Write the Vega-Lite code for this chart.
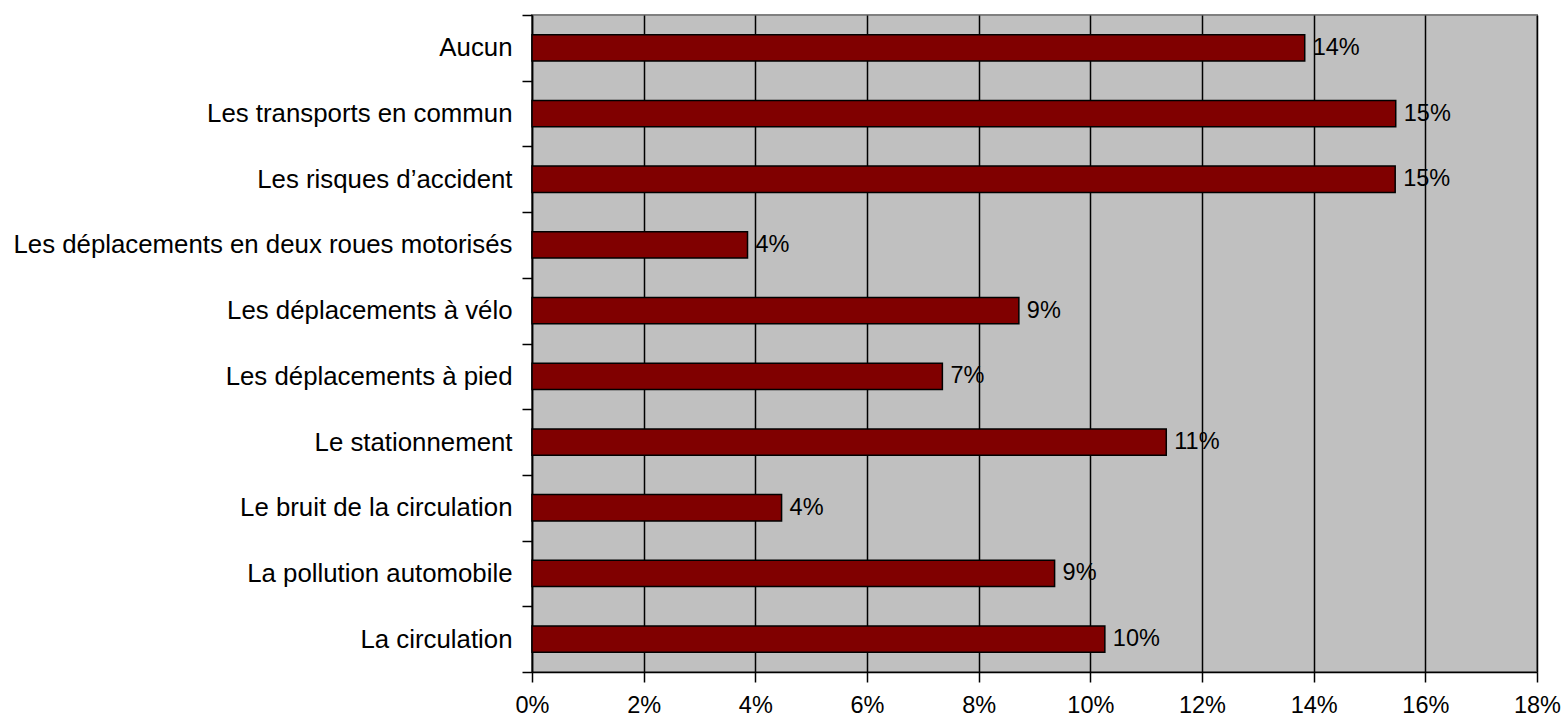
{
  "$schema": "https://vega.github.io/schema/vega-lite/v6.json",
  "width": 1005,
  "height": 657,
  "padding": {"left": 12, "top": 2, "right": 0, "bottom": 0},
  "background": "white",
  "config": {
    "view": {"fill": "#C0C0C0", "stroke": "#808080", "strokeWidth": 2},
    "font": "Liberation Sans"
  },
  "data": {
    "values": [
      {"categorie": "Aucun", "part": 0.1384},
      {"categorie": "Les transports en commun", "part": 0.1547},
      {"categorie": "Les risques d’accident", "part": 0.1546},
      {"categorie": "Les déplacements en deux roues motorisés", "part": 0.0386},
      {"categorie": "Les déplacements à vélo", "part": 0.0872},
      {"categorie": "Les déplacements à pied", "part": 0.0735},
      {"categorie": "Le stationnement", "part": 0.1136},
      {"categorie": "Le bruit de la circulation", "part": 0.0447},
      {"categorie": "La pollution automobile", "part": 0.0936},
      {"categorie": "La circulation", "part": 0.1026}
    ]
  },
  "encoding": {
    "y": {
      "field": "categorie",
      "type": "nominal",
      "sort": null,
      "scale": {"paddingInner": 0, "paddingOuter": 0},
      "axis": {
        "title": null,
        "tickBand": "extent",
        "tickSize": 10,
        "tickColor": "black",
        "tickWidth": 1.5,
        "domainColor": "black",
        "domainWidth": 1.5,
        "labelFont": "Liberation Sans",
        "labelFontSize": 25.8,
        "labelColor": "black",
        "labelPadding": 10,
        "labelLimit": 0,
        "minExtent": 520,
        "maxExtent": 520,
        "grid": false
      }
    },
    "x": {
      "field": "part",
      "type": "quantitative",
      "scale": {"domain": [0, 0.18], "nice": false, "zero": true},
      "axis": {
        "title": null,
        "values": [0, 0.02, 0.04, 0.06, 0.08, 0.1, 0.12, 0.14, 0.16, 0.18],
        "format": ".0%",
        "grid": true,
        "gridColor": "black",
        "gridWidth": 1.5,
        "gridOpacity": 1,
        "tickSize": 10,
        "tickColor": "black",
        "tickWidth": 1.5,
        "domainColor": "black",
        "domainWidth": 1.5,
        "labelFont": "Liberation Sans",
        "labelFontSize": 23.5,
        "labelColor": "black",
        "labelPadding": 11,
        "labelFlush": false
      }
    }
  },
  "layer": [
    {
      "mark": {
        "type": "bar",
        "height": {"band": 0.4},
        "fill": "#800000",
        "stroke": "black",
        "strokeWidth": 1.5
      }
    },
    {
      "mark": {
        "type": "text",
        "align": "left",
        "baseline": "middle",
        "dx": 8,
        "font": "Liberation Sans",
        "fontSize": 23.5,
        "color": "black"
      },
      "encoding": {
        "text": {"field": "part", "type": "quantitative", "format": ".0%"}
      }
    }
  ]
}
